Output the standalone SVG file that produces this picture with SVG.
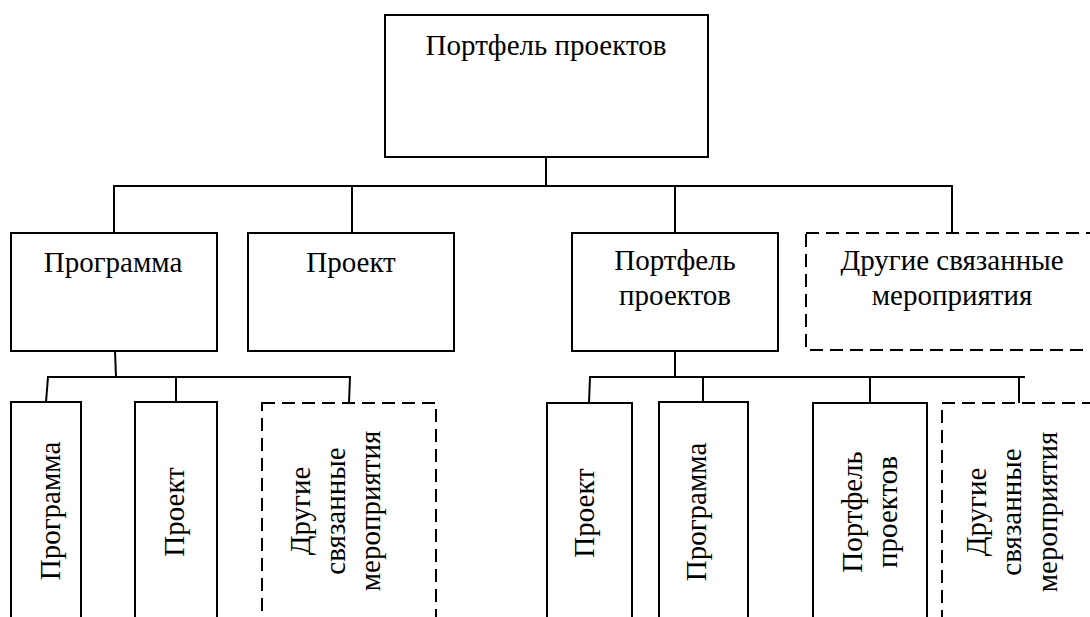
<svg xmlns="http://www.w3.org/2000/svg" width="1090" height="617" viewBox="0 0 1090 617" font-family="'Liberation Serif', 'DejaVu Serif', serif" font-size="29">
<style>
.box{fill:#fff;stroke:#000;stroke-width:2}
.dash{fill:#fff;stroke:#000;stroke-width:2;stroke-dasharray:13 7}
.conn line{stroke:#000;stroke-width:2}
text{fill:#000;text-anchor:middle}
</style>
<rect width="1090" height="617" fill="#fff"/>
<g class="conn" id="connectors">
<line x1="546" y1="157" x2="546" y2="186"/>
<line x1="113" y1="186" x2="953" y2="186"/>
<line x1="114" y1="186" x2="114" y2="233"/>
<line x1="352" y1="186" x2="352" y2="233"/>
<line x1="675" y1="186" x2="675" y2="233"/>
<line x1="952" y1="186" x2="952" y2="233"/>
<line x1="115" y1="351" x2="116" y2="377"/>
<line x1="47" y1="377" x2="351" y2="377"/>
<line x1="48" y1="377" x2="46" y2="402"/>
<line x1="176" y1="377" x2="176" y2="402"/>
<line x1="350" y1="377" x2="349" y2="403"/>
<line x1="675" y1="351" x2="675" y2="377"/>
<line x1="589" y1="377" x2="1025" y2="377"/>
<line x1="590" y1="377" x2="589" y2="403"/>
<line x1="703" y1="377" x2="703" y2="402"/>
<line x1="870" y1="377" x2="870" y2="403"/>
<line x1="1019" y1="377" x2="1019" y2="403"/>
</g>
<g id="root">
<rect class="box" x="385" y="15" width="323" height="142"/>
<text x="546" y="55">Портфель проектов</text>
</g>
<g id="l2-program">
<rect class="box" x="11" y="233" width="206" height="118"/>
<text x="113" y="272">Программа</text>
</g>
<g id="l2-project">
<rect class="box" x="248" y="233" width="206" height="118"/>
<text x="351" y="272">Проект</text>
</g>
<g id="l2-portfolio">
<rect class="box" x="572" y="233" width="206" height="118"/>
<text x="675" y="270">Портфель</text>
<text x="675" y="305">проектов</text>
</g>
<g id="l2-other">
<rect class="dash" x="806" y="233" width="300" height="117"/>
<text x="952" y="270">Другие связанные</text>
<text x="952" y="305">мероприятия</text>
</g>
<g id="bl-program">
<rect class="box" x="11" y="402" width="70" height="240"/>
<text transform="translate(60,511) rotate(-90)">Программа</text>
</g>
<g id="bl-project">
<rect class="box" x="135" y="402" width="82" height="240"/>
<text transform="translate(184,512) rotate(-90)">Проект</text>
</g>
<g id="bl-other">
<rect class="dash" x="262" y="403" width="174" height="240"/>
<text transform="translate(310,511) rotate(-90)">Другие</text>
<text transform="translate(345,511) rotate(-90)">связанные</text>
<text transform="translate(380,511) rotate(-90)">мероприятия</text>
</g>
<g id="br-project">
<rect class="box" x="547" y="403" width="85" height="240"/>
<text transform="translate(594,513) rotate(-90)">Проект</text>
</g>
<g id="br-program">
<rect class="box" x="659" y="402" width="89" height="240"/>
<text transform="translate(706,512) rotate(-90)">Программа</text>
</g>
<g id="br-portfolio">
<rect class="box" x="813" y="403" width="114" height="240"/>
<text transform="translate(862,512) rotate(-90)">Портфель</text>
<text transform="translate(897,512) rotate(-90)">проектов</text>
</g>
<g id="br-other">
<rect class="dash" x="942" y="403" width="200" height="240"/>
<text transform="translate(986,512) rotate(-90)">Другие</text>
<text transform="translate(1021,512) rotate(-90)">связанные</text>
<text transform="translate(1057,512) rotate(-90)">мероприятия</text>
</g>
</svg>
